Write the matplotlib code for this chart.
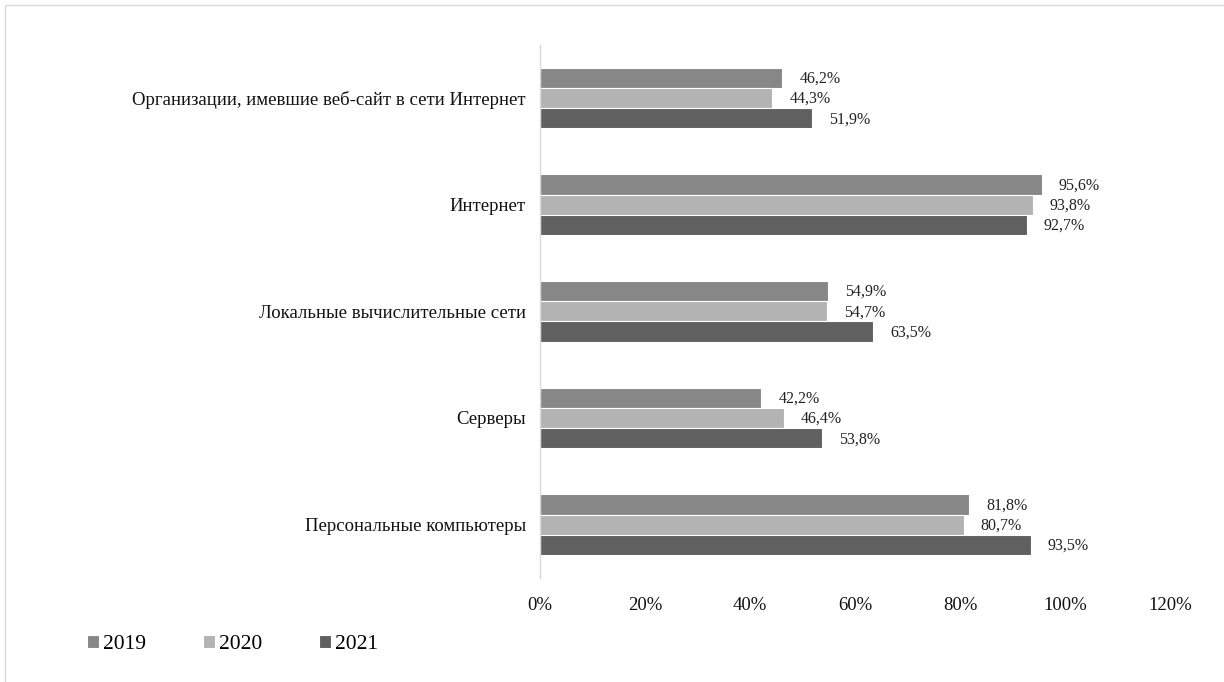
import matplotlib
matplotlib.use("Agg")
import matplotlib.pyplot as plt
from matplotlib.patches import Rectangle
import numpy as np

plt.rcParams['font.family'] = ['Liberation Serif', 'DejaVu Serif']

# data (top to bottom as shown)
categories = [
    "Организации, имевшие веб-сайт в сети Интернет",
    "Интернет",
    "Локальные вычислительные сети",
    "Серверы",
    "Персональные компьютеры",
]
years = ["2019", "2020", "2021"]
v2019 = [46.2, 95.6, 54.9, 42.2, 81.8]
v2020 = [44.3, 93.8, 54.7, 46.4, 80.7]
v2021 = [51.9, 92.7, 63.5, 53.8, 93.5]
colors = ["#878787", "#b3b3b3", "#606060"]

fig = plt.figure(figsize=(12.24, 6.82), dpi=100)
ax = fig.add_axes([0.441, 0.1525, 0.515, 0.782])

n = len(categories)
y = np.arange(n)[::-1].astype(float)
h = 0.19
series = [v2019, v2020, v2021]
for i, (vals, col, yr) in enumerate(zip(series, colors, years)):
    pos = y + (1 - i) * h
    ax.barh(pos, vals, height=h, color=col, edgecolor="white", linewidth=0.8, label=yr)
    for p, v in zip(pos, vals):
        ax.text(v + 3.2, p - 0.01, f"{v:.1f}%".replace(".", ","), va="center", ha="left",
                fontsize=11.5, color="#222222")

ax.set_xlim(0, 120)
ax.set_ylim(-0.5, n - 0.5)
ax.set_xticks(np.arange(0, 121, 20))
ax.set_xticklabels([f"{t}%" for t in range(0, 121, 20)], fontsize=13.5)
ax.set_yticks(y)
ax.set_yticklabels(categories, fontsize=13.5)
ax.tick_params(axis="both", length=0, colors="#111111")
ax.tick_params(axis="x", pad=14)
ax.tick_params(axis="y", pad=10)
for s in ["top", "right", "bottom"]:
    ax.spines[s].set_visible(False)
ax.spines["left"].set_color("#d9d9d9")
ax.spines["left"].set_linewidth(1)

leg = fig.legend(loc="lower left", bbox_to_anchor=(0.055, 0.012), ncol=3, frameon=False,
                 fontsize=15.5, handlelength=0.55, handleheight=0.55, handletextpad=0.2,
                 columnspacing=2.65)

fig.patches.append(Rectangle((0.004, -0.01), 1.1, 1.003, transform=fig.transFigure,
                             fill=False, edgecolor="#d9d9d9", linewidth=1))

fig.savefig("out.png", dpi=100)
